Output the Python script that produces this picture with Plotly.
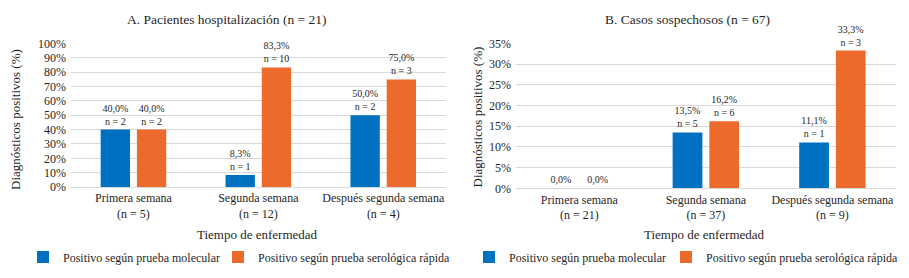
import plotly.graph_objects as go

W, H = 909, 278
FONT = "Times New Roman"
BLUE = "#0070c0"
ORANGE = "#ec6a2c"
GRID = "#d9d9d9"
TXT = "#1f1f1f"

# ---- data ----
cats_a = ["Primera semana<br>(n = 5)", "Segunda semana<br>(n = 12)", "Después segunda semana<br>(n = 4)"]
mol_a = [40.0, 8.3, 50.0]
mol_a_n = [2, 1, 2]
ser_a = [40.0, 83.3, 75.0]
ser_a_n = [2, 10, 3]

cats_b = ["Primera semana<br>(n = 21)", "Segunda semana<br>(n = 37)", "Después segunda semana<br>(n = 9)"]
mol_b = [0.0, 13.5, 11.1]
mol_b_n = [0, 5, 1]
ser_b = [0.0, 16.2, 33.3]
ser_b_n = [0, 6, 3]

name_mol = "Positivo según prueba molecular"
name_ser = "Positivo según prueba serológica rápida"
title_a = "A. Pacientes hospitalización (n = 21)"
title_b = "B. Casos sospechosos (n = 67)"
xtitle = "Tiempo de enfermedad"
ytitle = "Diagnósticos positivos (%)"


def labels(vals, ns):
    out = []
    for v, n in zip(vals, ns):
        s = f"{v:.1f}%".replace(".", ",")
        out.append(s if n == 0 else f"{s}<br>n = {n}")
    return out


fig = go.Figure()

def add_bar(x, y, ns, name, color, xa, ya, legend):
    fig.add_trace(go.Bar(
        x=x, y=y, name=name, marker=dict(color=color, line=dict(width=0)),
        text=labels(y, ns), textposition="outside", cliponaxis=False,
        textfont=dict(family=FONT, size=10, color=TXT),
        xaxis=xa, yaxis=ya, legend=legend, hoverinfo="skip",
    ))

add_bar(cats_a, mol_a, mol_a_n, name_mol, BLUE, "x", "y", "legend")
add_bar(cats_a, ser_a, ser_a_n, name_ser, ORANGE, "x", "y", "legend2")
add_bar(cats_b, mol_b, mol_b_n, name_mol, BLUE, "x2", "y2", "legend3")
add_bar(cats_b, ser_b, ser_b_n, name_ser, ORANGE, "x2", "y2", "legend4")

tickfont = dict(family=FONT, size=12, color=TXT)

xcommon = dict(showline=True, linecolor=GRID, linewidth=1, ticks="", tickfont=tickfont,
               showgrid=False, zeroline=False, fixedrange=True, automargin=False)
ycommon = dict(showline=False, ticks="", tickfont=tickfont, ticksuffix="%", showgrid=True,
               gridcolor=GRID, gridwidth=1, zeroline=False, fixedrange=True, automargin=False,
               ticklabelstandoff=4)

legcommon = dict(orientation="h", font=dict(family=FONT, size=12, color=TXT),
                 bgcolor="rgba(0,0,0,0)", xanchor="left", yanchor="middle",
                 y=1 - 257 / H)

def ann(text, x, y, angle=0, size=12):
    return dict(text=text, x=x / W, y=1 - y / H, xref="paper", yref="paper", showarrow=False,
                textangle=angle, font=dict(family=FONT, size=size, color=TXT),
                xanchor="center", yanchor="middle")

fig.update_layout(
    width=W, height=H,
    margin=dict(l=0, r=0, t=0, b=0, autoexpand=False),
    paper_bgcolor="white", plot_bgcolor="white",
    font=dict(family=FONT, size=12, color=TXT),
    barmode="group", bargap=0.42, bargroupgap=0.19,
    showlegend=True,
    xaxis=dict(domain=[71 / W, 445.7 / W], anchor="y", **xcommon),
    yaxis=dict(domain=[1 - 187 / H, 1 - 43.5 / H], anchor="x", range=[0, 100], dtick=10, **ycommon),
    xaxis2=dict(domain=[516 / W, 895.7 / W], anchor="y2", **xcommon),
    yaxis2=dict(domain=[1 - 188.3 / H, 1 - 43.5 / H], anchor="x2", range=[0, 35], dtick=5, **ycommon),
    legend=dict(x=23 / W, **legcommon),
    legend2=dict(x=218 / W, **legcommon),
    legend3=dict(x=469 / W, **legcommon),
    legend4=dict(x=666 / W, **legcommon),
    annotations=[
        ann(title_a, 227, 19, size=13.5),
        ann(title_b, 687.5, 19, size=13.5),
        ann(xtitle, 257, 234, size=13),
        ann(xtitle, 704.5, 234, size=13),
        ann(ytitle, 15, 120, -90, size=13),
        ann(ytitle, 477, 117.5, -90, size=13),
    ],
)

fig.write_html("out.html", config={"displayModeBar": False},
               post_script="document.body.style.margin='0';document.body.style.overflow='hidden';")
